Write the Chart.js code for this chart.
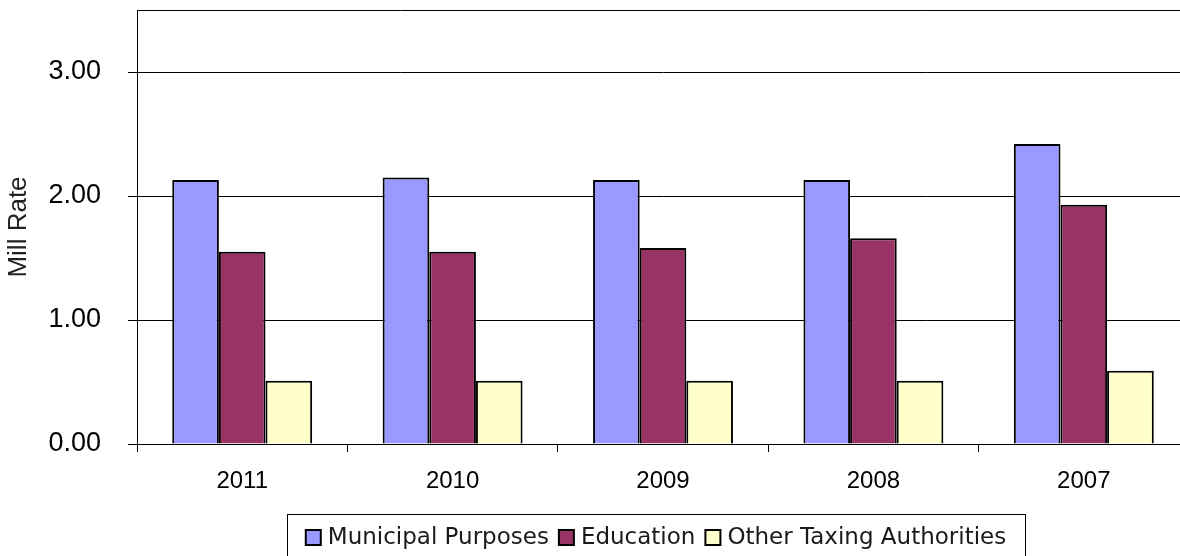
<!DOCTYPE html>
<html>
<head>
<meta charset="utf-8">
<script src="https://cdn.jsdelivr.net/npm/chart.js@4"></script>
<style>
  html, body { margin: 0; padding: 0; background: #fff; overflow: hidden; }
  #wrap { width: 1200px; height: 556px; position: relative; }
</style>
</head>
<body>
<div id="wrap"><canvas id="c" width="1200" height="556" style="width:1200px;height:556px"></canvas></div>
<script>
const categories = ["2011", "2010", "2009", "2008", "2007"];
const seriesNames = ["Municipal Purposes", "Education", "Other Taxing Authorities"];
const municipalPurposes = [2.13, 2.15, 2.13, 2.13, 2.42];
const education = [1.55, 1.55, 1.58, 1.66, 1.93];
const otherTaxingAuthorities = [0.51, 0.51, 0.51, 0.51, 0.59];
const yTicks = [0, 1, 2, 3];
const yMax = 3.5;

const colors = ["#9999FF", "#993366", "#FFFFCC"];

const plotBorder = {
  id: 'plotBorder',
  afterDraw(chart) {
    const a = chart.chartArea, ctx = chart.ctx;
    ctx.save();
    ctx.strokeStyle = '#000';
    ctx.lineWidth = 1;
    ctx.beginPath();
    ctx.moveTo(a.left + 0.5, a.bottom);
    ctx.lineTo(a.left + 0.5, a.top + 0.5);
    ctx.lineTo(a.right - 0.5, a.top + 0.5);
    ctx.lineTo(a.right - 0.5, a.bottom);
    ctx.stroke();
    ctx.restore();
  }
};

const customLegend = {
  id: 'customLegend',
  afterDraw(chart) {
    const ctx = chart.ctx;
    ctx.save();
    ctx.font = '23px "DejaVu Sans"';
    const sw = 15, gapAfterSwatch = 7, gapItems = 10;
    const items = chart.data.datasets.map(d => ({ text: d.label, color: d.backgroundColor, w: ctx.measureText(d.label).width }));
    let total = 0;
    items.forEach((it, i) => { total += sw + gapAfterSwatch + it.w + (i < items.length - 1 ? gapItems : 0); });
    const boxL = 287, boxR = 1025, boxT = 514, boxB = 556;
    const cx = (boxL + boxR) / 2;
    const cy = 537.5;
    ctx.strokeStyle = '#000';
    ctx.lineWidth = 1;
    ctx.strokeRect(boxL + 0.5, boxT + 0.5, boxR - boxL, boxB - boxT + 5);
    let x = cx - total / 2;
    ctx.textBaseline = 'middle';
    items.forEach(it => {
      ctx.fillStyle = it.color;
      ctx.fillRect(x, cy - sw / 2, sw, sw);
      ctx.strokeStyle = '#000';
      ctx.lineWidth = 2;
      ctx.strokeRect(x, cy - sw / 2, sw, sw);
      x += sw + gapAfterSwatch;
      ctx.fillStyle = '#1a1a1a';
      ctx.fillText(it.text, x, cy + 1);
      x += it.w + gapItems;
    });
    ctx.restore();
  }
};

new Chart(document.getElementById('c'), {
  type: 'bar',
  data: {
    labels: categories,
    datasets: [
      { label: seriesNames[0], data: municipalPurposes, backgroundColor: colors[0] },
      { label: seriesNames[1], data: education, backgroundColor: colors[1] },
      { label: seriesNames[2], data: otherTaxingAuthorities, backgroundColor: colors[2] }
    ]
  },
  options: {
    responsive: false,
    animation: false,
    devicePixelRatio: 1,
    layout: { padding: { left: 0, right: 11, top: 10, bottom: 0 } },
    datasets: {
      bar: {
        borderColor: '#000',
        borderWidth: 2,
        borderSkipped: 'start',
        categoryPercentage: 0.665,
        barPercentage: 1
      }
    },
    plugins: {
      legend: { display: false },
      tooltip: { enabled: false },
      title: { display: false }
    },
    scales: {
      x: {
        afterFit(s) { s.height = 112; s.paddingLeft = 0; s.paddingRight = 0; },
        grid: { offset: true, drawOnChartArea: false, color: '#000', tickLength: 8, lineWidth: 1 },
        border: { display: true, color: '#000', width: 1 },
        ticks: { color: '#000', font: { family: '"Liberation Sans", Arial', size: 24 }, padding: 15, maxRotation: 0 }
      },
      y: {
        min: 0,
        max: yMax,
        afterFit(s) { s.width = 137; s.paddingTop = 0; s.paddingBottom = 0; },
        afterBuildTicks(s) { s.ticks = yTicks.map(v => ({ value: v })); },
        grid: { color: '#000', lineWidth: 1, tickLength: 9, drawOnChartArea: true },
        border: { display: true, color: '#000', width: 1 },
        ticks: {
          color: '#000',
          font: { family: '"Liberation Sans", Arial', size: 27 },
          padding: 27,
          includeBounds: false,
          callback: v => Number(v).toFixed(2)
        },
        title: {
          display: true,
          text: 'Mill Rate',
          color: '#222',
          font: { family: '"Liberation Sans", Arial', size: 26 },
          padding: { top: 3, bottom: 0 }
        }
      }
    }
  },
  plugins: [plotBorder, customLegend]
});
</script>
</body>
</html>
